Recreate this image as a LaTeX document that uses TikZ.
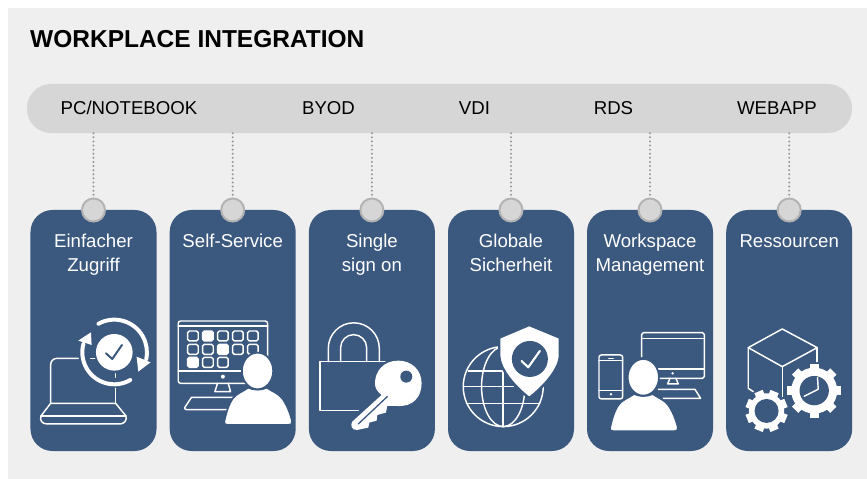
\documentclass[tikz,border=0pt]{standalone}
\usepackage{fontspec}
\setmainfont{Liberation Sans}
\usetikzlibrary{positioning}

\definecolor{panelgray}{HTML}{EFEFEF}
\definecolor{bargray}{HTML}{D6D6D6}
\definecolor{pinedge}{HTML}{B3B3B3}
\definecolor{cardblue}{HTML}{3B587F}

\tikzset{
	barlabel/.style={font=\fontsize{15.9}{18}\selectfont, text=black, inner sep=0pt, anchor=base},
	card/.style={fill=cardblue, draw=none, rounded corners=.66cm, minimum width=3.78cm, minimum height=7.23cm},
	cardtext/.style={font=\fontsize{15.9}{20.4}\selectfont, text=white, align=center, anchor=north, inner sep=0pt},
	pin/.style={circle, fill=bargray, draw=pinedge, line width=1.7pt, minimum size=.69cm, inner sep=0pt},
	link/.style={draw=pinedge!85!black, line width=1.9pt, line cap=round, dash pattern=on 0pt off 3.5pt},
	icon/.style={draw=white, line width=1.25pt, line join=round, line cap=round},
	zoomed/.style={x=.01cm, y=-.01cm},
}

% person with head centre at #1,#2
\newcommand{\PersonIcon}[2]{
	\begin{scope}[shift={(#1,#2)}]
		\filldraw[fill=white, draw=cardblue, line width=1.5pt]
		(-100,152) .. controls (-94,125) and (-87,100) .. (-74,82)
		.. controls (-64,68) and (-45,62) .. (-28,50)
		.. controls (-12,58) and (12,58) .. (28,50)
		.. controls (45,62) and (64,68) .. (74,82)
		.. controls (87,100) and (98,125) .. (104,152)
		.. controls (105,159) and (100,162) .. (94,162)
		-- (-90,162) .. controls (-98,162) and (-102,159) .. (-100,152) -- cycle;
		\filldraw[fill=white, draw=cardblue, line width=1.5pt] (0,0) ellipse (47 and 55);
	\end{scope}
}

% gear: centre, ring radius, tip radius, tooth angles, hole radius
\newcommand{\GearIcon}[6]{
	\begin{scope}[shift={(#1,#2)}]
		\fill[white] (0,0) circle (#3);
		\foreach \a in {#5}
		\draw[white, line width=7.6pt, line join=round] (\a:#3-4) -- (\a:#4);
		\fill[cardblue] (0,0) circle (#6);
	\end{scope}
}

\begin{document}
\begin{tikzpicture}[x=.03cm, y=-.03cm]
	\useasboundingbox (0,0) rectangle (867,479);
	\fill[panelgray] (8,8) rectangle (867,479);
	
	\node[anchor=west, inner sep=0pt, font=\fontsize{20.9}{24}\selectfont\bfseries] (title) at (30,39) {WORKPLACE INTEGRATION};
	
	\node[fill=bargray, rounded corners=.72cm, minimum width=24.75cm, minimum height=1.47cm] (bar) at (439.5,108.5) {};
	
	\node[barlabel] (pc) at (129,115) {PC/NOTEBOOK};
	\node[barlabel] (byod) at (328.5,115) {BYOD};
	\node[barlabel] (vdi) at (474.5,115) {VDI};
	\node[barlabel] (rds) at (613.5,115) {RDS};
	\node[barlabel] (webapp) at (777,115) {WEBAPP};
	
	\foreach \i/\cx/\txt in {1/93.5/{Einfacher\\Zugriff}, 2/232.7/{Self-Service}, 3/371.9/{Single\\sign on}, 4/511/{Globale\\Sicherheit}, 5/650/{Workspace\\Management}, 6/789.2/{Ressourcen}} {
		\node[card] (card\i) at (\cx,330.5) {};
		\node[pin] (pin\i) at (\cx,210) {};
		\node[cardtext] (text\i) at (\cx,234) {\txt};
		\draw[link] (pin\i |- bar.south) -- (pin\i.north);
	}
	
	% laptop with circling check
	\begin{scope}[shift={(20,300)}, zoomed]
		\draw[icon] (175,175) -- (112,175) .. controls (100,175) and (92,183) .. (92,195) -- (92,310);
		\draw[icon] (212,175) -- (224,175);
		\draw[icon] (287,222) -- (287,232);
		\draw[icon] (287,265) -- (287,310);
		\draw[icon] (92,310) -- (287,310) -- (318,348) .. controls (322,362) and (312,372) .. (300,372) -- (80,372) .. controls (68,372) and (58,362) .. (63,348) -- cycle;
		\draw[icon] (63,348) -- (318,348);
		\fill[white] (283,157) circle (55);
		\draw[cardblue, line width=1.7pt, line cap=round, line join=round] (258,160) -- (277,177) -- (306,135);
		\draw[white, line width=3.4pt, line cap=round] (283,157) ++(241:98) arc (241:372:98);
		\draw[white, line width=3.4pt, line cap=round] (283,157) ++(60:96) arc (60:195:96);
		\fill[white] (350,170) -- (392,187) -- (355,215) -- cycle;
		\fill[white] (175,122) -- (213,97) -- (215,135) -- cycle;
	\end{scope}
	
	% desktop with tiles
	\begin{scope}[shift={(20,300)}, zoomed]
		\draw[icon, rounded corners=2pt] (475,63) rectangle (743,250);
		\draw[icon] (475,78) -- (743,78);
		\draw[icon] (475,213) -- (743,213);
		\fill[white] (609,230) circle (6);
		\draw[icon] (593,250) -- (585,275) -- (632,275) -- (625,250);
		\draw[icon] (640,292) -- (515,292) -- (495,322) .. controls (493,327) and (496,329) .. (500,329) -- (625,329);
		\foreach \tx in {503,548,593,638,683}
		\draw[icon, rounded corners=1.5pt] (\tx,93) rectangle ++(32,30);
		\foreach \tx in {503,548,593,638,683}
		\draw[icon, rounded corners=1.5pt] (\tx,133) rectangle ++(32,30);
		\foreach \tx in {503,548,593}
		\draw[icon, rounded corners=1.5pt] (\tx,172) rectangle ++(32,30);
		\fill[white, rounded corners=1.5pt] (548,93) rectangle ++(32,30);
		\fill[white, rounded corners=1.5pt] (593,133) rectangle ++(32,30);
		\fill[white, rounded corners=1.5pt] (503,172) rectangle ++(32,30);
		\PersonIcon{713}{213}
	\end{scope}
	
	% padlock and key
	\begin{scope}[shift={(300,300)}, zoomed]
		\draw[icon] (175,332) -- (60,332) -- (60,185) -- (255,185);
		\draw[icon] (85,185) -- (85,145) arc (180:360:76.5) -- (238,185);
		\draw[icon] (122,185) -- (122,143) arc (180:360:39) -- (200,185);
		\fill[white] (245,285) -- (157,365) .. controls (150,375) and (155,392) .. (172,390)
		-- (205,383) -- (208,368) -- (230,362) -- (232,345) -- (258,338) -- (262,318) -- (290,318)
		.. controls (340,322) and (365,290) .. (365,250) .. controls (365,210) and (335,182) .. (295,182)
		.. controls (250,182) and (225,215) .. (225,250) .. controls (225,265) and (232,275) .. (245,285) -- cycle;
		\fill[cardblue] (319,230) circle (18);
		\draw[cardblue, line width=1.1pt, line cap=round] (175,372) -- (262,290);
	\end{scope}
	
	% globe and shield
	\begin{scope}[shift={(300,300)}, zoomed]
		\draw[icon] (610,260) circle (120);
		\draw[icon] (610,260) ellipse (65 and 120);
		\draw[icon] (610,215) -- (610,380);
		\draw[icon] (505,213) -- (610,213);
		\draw[icon] (490,260) -- (640,260);
		\draw[icon] (500,310) -- (720,310);
		\filldraw[fill=white, draw=cardblue, line width=2pt] (688,75) -- (598,113) -- (598,165)
		.. controls (598,210) and (650,265) .. (688,294)
		.. controls (726,265) and (780,210) .. (780,165) -- (780,113) -- cycle;
		\fill[cardblue] (690,177) circle (54);
		\draw[white, line width=1.8pt, line cap=round, line join=round] (665,183) -- (685,202) -- (720,153);
	\end{scope}
	
	% workspace devices
	\begin{scope}[shift={(580,300)}, zoomed]
		\draw[icon, rounded corners=1.5pt] (185,170) -- (185,98) -- (373,98) -- (373,235) -- (230,235);
		\draw[icon] (185,115) -- (373,115);
		\draw[icon] (230,207) -- (373,207);
		\fill[white] (278,220) circle (4);
		\draw[icon] (270,235) -- (263,252) -- (295,252) -- (288,235);
		\draw[icon] (235,268) -- (345,268) -- (362,295) -- (250,295);
		\draw[icon, rounded corners=2pt] (57,165) rectangle (128,297);
		\draw[icon] (57,182) -- (128,182);
		\draw[icon] (57,272) -- (128,272);
		\draw[icon] (86,175) -- (100,175);
		\fill[white] (93,283) circle (4);
		\PersonIcon{190}{232}
	\end{scope}
	
	% cube with gears
	\begin{scope}[shift={(580,300)}, zoomed]
		\draw[icon] (607,87) -- (505,143) -- (607,200) -- (712,143) -- cycle;
		\draw[icon] (505,143) -- (505,265) -- (520,275);
		\draw[icon] (607,200) -- (607,290);
		\draw[icon] (712,143) -- (712,185);
		\GearIcon{703}{272}{69}{81}{0,45,...,315}{44}
		\GearIcon{560}{333}{53}{63}{22.5,67.5,...,340}{36}
		\draw[icon] (713,233) -- (715,268) -- (673,289);
	\end{scope}
\end{tikzpicture}
\end{document}
